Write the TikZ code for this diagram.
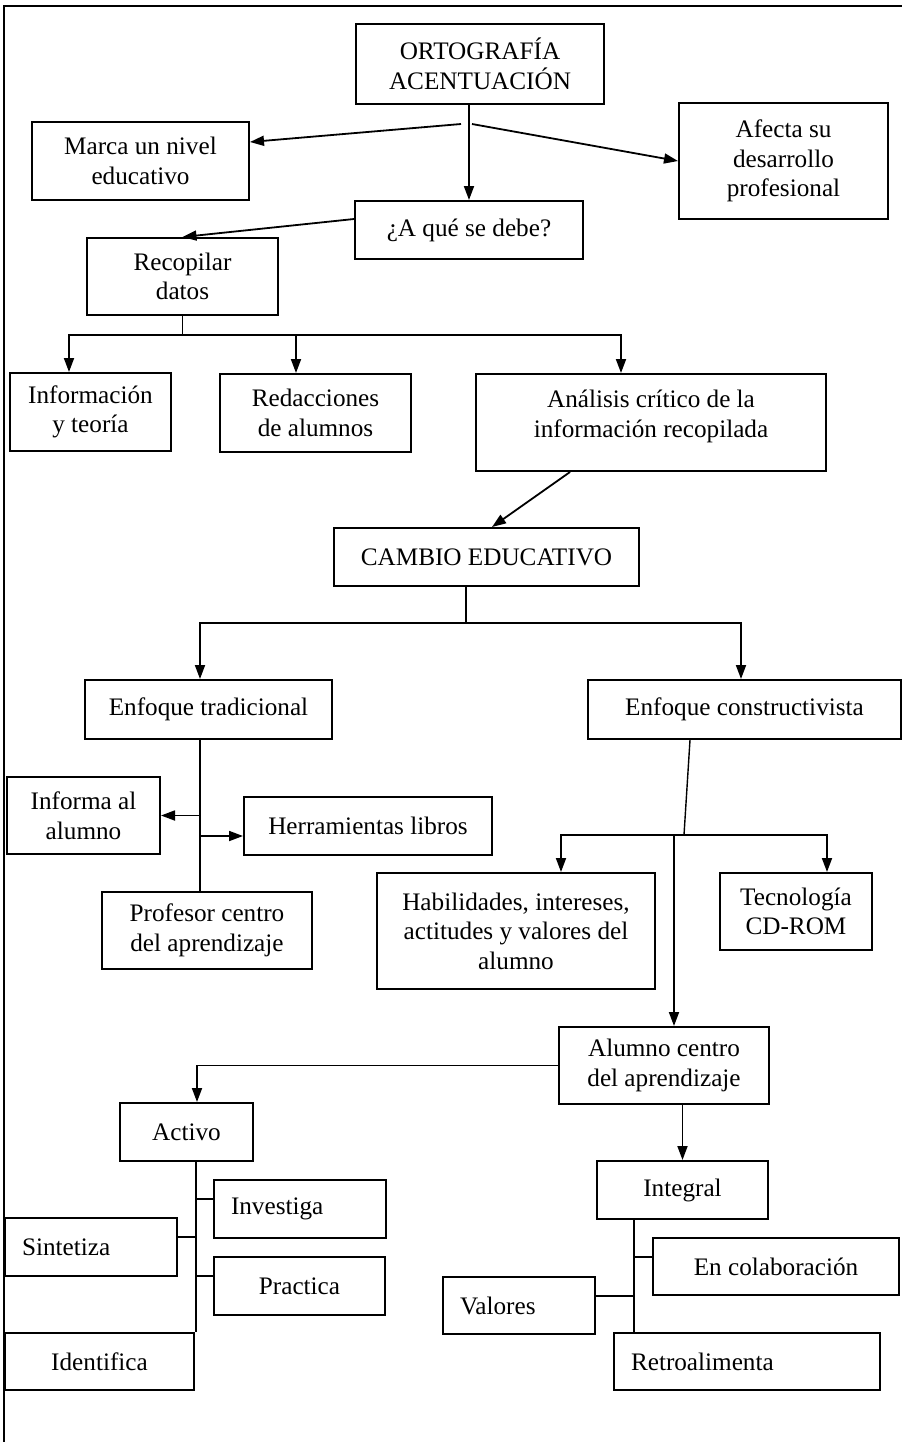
\documentclass[tikz,border=0pt]{standalone}
\usepackage{fontspec}
\setmainfont{Liberation Serif}
\usetikzlibrary{arrows.meta}

\begin{document}
\begin{tikzpicture}[x=0.5pt,y=-0.5pt,
  box/.style={draw,line width=1pt,inner sep=0pt,align=center,font=\fontsize{12.6}{14.8}\selectfont},
  lbox/.style={box,align=left,inner xsep=8.5pt},
  arr/.style={line width=0.9pt,-{Triangle[length=7pt,width=5pt]}},
  link/.style={line width=0.9pt},
  thinlink/.style={line width=0.7pt}]

\useasboundingbox (0,0) rectangle (902,1442);
% outer frame
\draw[link] (4,1442) -- (4,6) -- (902,6);

% top part
\node[box,minimum width=124pt,minimum height=40pt] (orto) at (480,64) {ORTOGRAFÍA\\ACENTUACIÓN};
\node[box,minimum width=108.5pt,minimum height=39pt] (marca) at (140.5,161) {Marca un nivel\\educativo};
\node[box,minimum width=104.5pt,minimum height=58pt] (afecta) at (783.5,161) {Afecta su\\desarrollo\\profesional};
\node[box,minimum width=114pt,minimum height=29pt] (debe) at (469,230) {¿A qué se debe?};
\node[box,minimum width=95.5pt,minimum height=38.5pt] (recop) at (182.5,276.5) {Recopilar\\datos};

\path (orto.south -| debe.north) ++(0,19) coordinate (osplit);
\draw[arr] (orto.south -| debe.north) -- (debe.north);
\draw[arr] ([xshift=-4pt]osplit) -- ([yshift=9.5pt]marca.east);
\draw[arr] ([xshift=1.5pt]osplit) -- (afecta.west);
\draw[arr] ([yshift=5.5pt]debe.west) -- (recop.north);

% recopilar datos
\node[box,minimum width=80.5pt,minimum height=39pt] (info) at (90.5,412) {Información\\y teoría};
\node[box,minimum width=95.5pt,minimum height=39pt] (redac) at (315.5,413) {Redacciones\\de alumnos};
\node[box,minimum width=175pt,minimum height=48.5pt] (analisis) at (651,422.5) {Análisis crítico de la\\información recopilada\\[-6pt]\mbox{}};

\path (recop.south) ++(0,19) coordinate (rbar);
\draw[link] (recop.south) -- (rbar);
\draw[arr] (rbar) -| ([xshift=-10.75pt]info.north);
\draw[arr] (rbar) -| ([xshift=-9.75pt]redac.north);
\draw[arr] (rbar) -| ([xshift=-15pt]analisis.north);

% cambio educativo
\node[box,minimum width=152.5pt,minimum height=29pt] (cambio) at (486.5,557) {CAMBIO EDUCATIVO};
\draw[arr] ([xshift=-40.5pt]analisis.south) -- ([xshift=2.75pt]cambio.north);

\node[box,minimum width=123.5pt,minimum height=29.5pt] (tradic) at (208.5,709.5) {Enfoque tradicional};
\node[box,minimum width=156.5pt,minimum height=29.5pt] (constr) at (744.5,709.5) {Enfoque constructivista};

\path ([xshift=-10.25pt]cambio.south) ++(0,36) coordinate (cbar);
\draw[link] ([xshift=-10.25pt]cambio.south) -- (cbar);
\draw[arr] (cbar) -| ([xshift=-4.25pt]tradic.north);
\draw[arr] (cbar) -| ([xshift=-1.75pt]constr.north);

% enfoque tradicional
\node[box,minimum width=76.5pt,minimum height=38.5pt] (informa) at (83.5,815.5) {Informa al\\alumno};
\node[box,minimum width=124pt,minimum height=29pt] (herram) at (368,826) {Herramientas libros};
\node[box,minimum width=105pt,minimum height=38.5pt] (profesor) at (207,930.5) {Profesor centro\\del aprendizaje};

\coordinate (ttop) at ([xshift=-4.25pt]tradic.south);
\draw[thinlink] (ttop) -- (ttop |- profesor.north);
\draw[arr] (ttop |- informa.east) -- (informa.east);
\draw[arr] ([yshift=-5pt]herram.west -| ttop) -- ([yshift=-5pt]herram.west);

% enfoque constructivista
\node[box,minimum width=139pt,minimum height=58pt] (habil) at (516,931) {Habilidades, intereses,\\actitudes y valores del\\alumno};
\node[box,minimum width=76pt,minimum height=38.5pt] (tecno) at (796,911.5) {Tecnología\\CD-ROM};
\node[box,minimum width=105pt,minimum height=38.5pt] (alumno) at (664,1065.5) {Alumno centro\\del aprendizaje};

\coordinate (kbar) at (684,835);
\draw[thinlink] ([xshift=-27.25pt]constr.south) -- (kbar);
\draw[arr] (kbar) -| ([xshift=22.5pt]habil.north);
\draw[arr] (kbar) -| ([xshift=15.5pt]tecno.north);
\draw[arr] ([xshift=5pt]alumno.north |- kbar) -- ([xshift=5pt]alumno.north);

% alumno centro del aprendizaje
\node[box,minimum width=66.5pt,minimum height=29pt] (activo) at (186.5,1132) {Activo};
\node[box,minimum width=85.5pt,minimum height=29pt] (integral) at (682.5,1190) {Integral};
\draw[arr] (alumno.west) -| ([xshift=5.25pt]activo.north);
\draw[arr] (integral.north |- alumno.south) -- (integral.north);

% activo
\node[lbox,text width=69pt,minimum height=29pt] (investiga) at (300,1209) {Investiga};
\node[lbox,text width=69pt,minimum height=29pt] (sintetiza) at (91,1247) {Sintetiza};
\node[box,minimum width=85.5pt,minimum height=29pt] (practica) at (299.5,1286) {Practica};
\node[box,minimum width=94.5pt,minimum height=28.5pt] (identifica) at (99.5,1361.5) {Identifica};

\coordinate (atrunk) at ([xshift=4.75pt]activo.south);
\draw[thinlink] (atrunk) -- (atrunk |- identifica.north);
\draw[thinlink] ([yshift=5pt]investiga.west) -- ([yshift=5pt]investiga.west -| atrunk);
\draw[thinlink] ([yshift=5pt]sintetiza.east) -- ([yshift=5pt]sintetiza.east -| atrunk);
\draw[thinlink] ([yshift=5pt]practica.west) -- ([yshift=5pt]practica.west -| atrunk);

% integral
\node[box,minimum width=123pt,minimum height=28.5pt] (colab) at (776,1266.5) {En colaboración};
\node[lbox,text width=59pt,minimum height=28.5pt] (valores) at (519,1305.5) {Valores};
\node[lbox,text width=116pt,minimum height=28.5pt] (retro) at (747,1361.5) {Retroalimenta};

\coordinate (itrunk) at ([xshift=-24.25pt]integral.south);
\draw[thinlink] (itrunk) -- (itrunk |- retro.north);
\draw[thinlink] ([yshift=4.75pt]colab.west) -- ([yshift=4.75pt]colab.west -| itrunk);
\draw[thinlink] ([yshift=4.75pt]valores.east) -- ([yshift=4.75pt]valores.east -| itrunk);

\end{tikzpicture}
\end{document}
